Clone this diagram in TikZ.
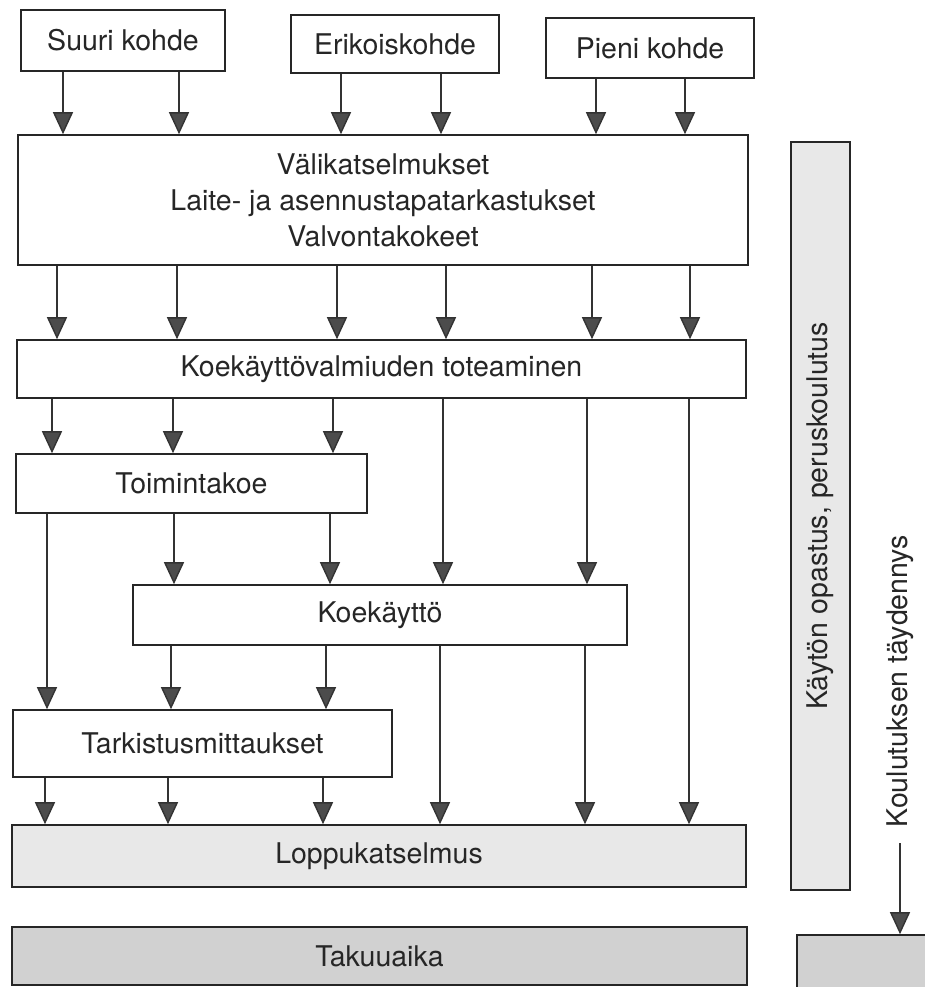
\documentclass[tikz,border=0pt]{standalone}
\usepackage{fontspec}
\setmainfont{TeX Gyre Heros}
\usetikzlibrary{arrows.meta}
\definecolor{lightfill}{gray}{0.91}
\definecolor{darkfill}{gray}{0.82}
\definecolor{headgray}{gray}{0.3}

\begin{document}
\begin{tikzpicture}[
    x=1pt, y=-1pt,
    font=\fontsize{28.5}{36}\selectfont,
    block/.style={rectangle, draw=black!85, line width=1.6pt, inner sep=0pt, text=black!85, align=center},
    arrow/.style={line width=1.4pt, draw=black!80, -{Triangle[width=20pt, length=22pt, fill=headgray]}}
]

\path[use as bounding box, fill=white] (0,0) rectangle (924,987);

\node[block, minimum width=204pt, minimum height=61pt] (suuri) at (123,40.5) {Suuri kohde};
\node[block, minimum width=208pt, minimum height=58pt] (erikois) at (395,44) {Erikoiskohde};
\node[block, minimum width=208pt, minimum height=60pt] (pieni) at (650,48) {Pieni kohde};

\node[block, minimum width=730pt, minimum height=130pt] (valikat) at (383,200)
    {Välikatselmukset\\Laite- ja asennustapatarkastukset\\Valvontakokeet};
\node[block, minimum width=729pt, minimum height=58pt] (valmius) at (381.5,369) {Koekäyttövalmiuden toteaminen};
\node[block, minimum width=351pt, minimum height=59pt] (toiminta) at (191.5,483.5) {Toimintakoe};
\node[block, minimum width=494pt, minimum height=60pt] (koekaytto) at (380,615) {Koekäyttö};
\node[block, minimum width=379pt, minimum height=67pt] (tarkistus) at (202.5,743.5) {Tarkistusmittaukset};
\node[block, fill=lightfill, minimum width=734pt, minimum height=62pt] (loppu) at (379,856) {Loppukatselmus};
\node[block, fill=darkfill, minimum width=735pt, minimum height=58pt] (takuu) at (379.5,956) {Takuuaika};

\node[block, fill=lightfill, rotate=90, minimum width=748pt, minimum height=59pt] (opastus) at (820.5,516)
    {Käytön opastus, peruskoulutus};
\node[block, fill=darkfill, minimum width=133pt, minimum height=60pt] (jatko) at (863.5,965) {};
\node[rotate=90, inner sep=0pt, text=black!85] (koulutus) at (900,681) {Koulutuksen täydennys};

\foreach \x in {63,179} \draw[arrow] (\x,0 |- suuri.south) -- (\x,0 |- valikat.north);
\foreach \x in {341,441} \draw[arrow] (\x,0 |- erikois.south) -- (\x,0 |- valikat.north);
\foreach \x in {596,685} \draw[arrow] (\x,0 |- pieni.south) -- (\x,0 |- valikat.north);

\foreach \x in {57,177,337,446,592,690} \draw[arrow] (\x,0 |- valikat.south) -- (\x,0 |- valmius.north);

\foreach \x in {52,173,333} \draw[arrow] (\x,0 |- valmius.south) -- (\x,0 |- toiminta.north);
\foreach \x in {443,587} \draw[arrow] (\x,0 |- valmius.south) -- (\x,0 |- koekaytto.north);
\draw[arrow] (689,0 |- valmius.south) -- (689,0 |- loppu.north);

\foreach \x in {174,330} \draw[arrow] (\x,0 |- toiminta.south) -- (\x,0 |- koekaytto.north);
\draw[arrow] (47,0 |- toiminta.south) -- (47,0 |- tarkistus.north);

\foreach \x in {171,326} \draw[arrow] (\x,0 |- koekaytto.south) -- (\x,0 |- tarkistus.north);
\foreach \x in {440,585} \draw[arrow] (\x,0 |- koekaytto.south) -- (\x,0 |- loppu.north);

\foreach \x in {45,168,323} \draw[arrow] (\x,0 |- tarkistus.south) -- (\x,0 |- loppu.north);

\draw[arrow, shorten <=16pt] (koulutus.west) -- (koulutus.west |- jatko.north);

\end{tikzpicture}
\end{document}
